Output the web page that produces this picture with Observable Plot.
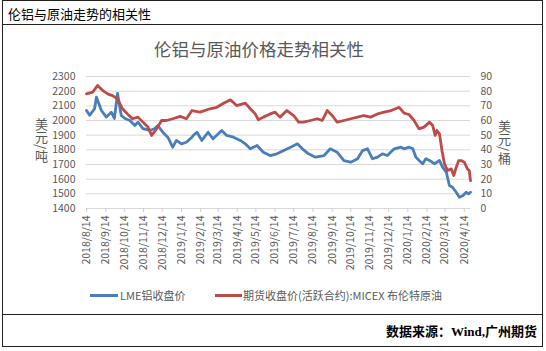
<!DOCTYPE html>
<html><head><meta charset="utf-8">
<script src="https://cdn.jsdelivr.net/npm/d3@7"></script>
<script src="https://cdn.jsdelivr.net/npm/@observablehq/plot@0.6"></script>
<style>
body{margin:0;background:#fff;}
#wrap{position:relative;width:546px;height:351px;overflow:hidden;font-family:"Noto Sans CJK SC","Noto Sans",sans-serif;}
#chart svg{position:absolute;left:0;top:0;}
.abs{position:absolute;white-space:nowrap;}
.hl{position:absolute;background:#222;height:1px;}
.vl{position:absolute;background:#222;width:1px;}
.vt{position:absolute;writing-mode:vertical-rl;font-size:13px;color:#595959;line-height:14px;}
.sw{position:absolute;height:3px;}
.lg{position:absolute;font-size:11px;color:#595959;line-height:14px;white-space:nowrap;}
</style></head><body>
<div id="wrap">
  <div id="chart"></div>
  <div class="hl" style="left:2px;top:0px;width:541px;"></div>
  <div class="hl" style="left:2px;top:24px;width:541px;"></div>
  <div class="hl" style="left:2px;top:314px;width:541px;"></div>
  <div class="hl" style="left:2px;top:346px;width:541px;"></div>
  <div class="vl" style="left:2px;top:0px;height:347px;"></div>
  <div class="vl" style="left:542px;top:0px;height:347px;"></div>
  <div class="abs" id="header" style="left:8px;top:4px;font-size:13px;line-height:19px;color:#000;">伦铝与原油走势的相关性</div>
  <div class="abs" id="title" style="left:0px;top:38px;width:518px;text-align:center;font-size:17.5px;line-height:22px;color:#595959;">伦铝与原油价格走势相关性</div>
  <div class="vt" id="ylabL" style="left:34px;top:118px;">美元/吨</div>
  <div class="vt" id="ylabR" style="left:497px;top:120px;">美元/桶</div>
  <div class="sw" style="left:90px;top:294px;width:28px;background:#4a7ebb;"></div>
  <div class="lg" id="lg1" style="left:120px;top:288px;">LME铝收盘价</div>
  <div class="sw" style="left:215px;top:294px;width:27px;background:#be4b48;"></div>
  <div class="lg" id="lg2" style="left:243px;top:288px;">期货收盘价(活跃合约):MICEX 布伦特原油</div>
  <div class="abs" id="footer" style="right:9px;top:323px;font-size:13px;line-height:18px;color:#000;font-weight:bold;font-family:'Liberation Serif','Noto Sans CJK SC',serif;">数据来源：Wind,广州期货</div>
</div>
<script>
// LME aluminium close (USD/t)
const alumDates = ["2018-08-14","2018-08-19","2018-08-27","2018-08-30","2018-09-07","2018-09-15","2018-09-23","2018-09-28","2018-10-03","2018-10-09","2018-10-15","2018-10-23","2018-10-31","2018-11-05","2018-11-13","2018-11-24","2018-12-02","2018-12-07","2018-12-15","2018-12-23","2018-12-31","2019-01-06","2019-01-14","2019-01-22","2019-01-31","2019-02-02","2019-02-08","2019-02-16","2019-02-26","2019-03-06","2019-03-20","2019-03-28","2019-04-08","2019-04-19","2019-04-27","2019-05-05","2019-05-16","2019-05-26","2019-06-06","2019-06-17","2019-06-28","2019-07-09","2019-07-20","2019-07-28","2019-08-07","2019-08-18","2019-09-01","2019-09-11","2019-09-22","2019-10-03","2019-10-14","2019-10-25","2019-11-02","2019-11-10","2019-11-18","2019-11-26","2019-12-04","2019-12-12","2019-12-23","2020-01-03","2020-01-08","2020-01-16","2020-01-22","2020-01-27","2020-02-01","2020-02-07","2020-02-12","2020-02-18","2020-02-26","2020-03-05","2020-03-10","2020-03-16","2020-03-21","2020-03-26","2020-04-01","2020-04-06","2020-04-12","2020-04-17","2020-04-21","2020-04-24"];
const alumValues = [2068,2035,2080,2159,2068,2023,2057,2014,2184,2034,2014,2000,1966,1989,1945,1932,1945,1966,1920,1886,1818,1864,1841,1852,1886,1898,1920,1864,1920,1875,1932,1898,1886,1864,1841,1807,1830,1784,1761,1773,1795,1818,1841,1807,1773,1750,1761,1807,1784,1727,1716,1739,1795,1807,1739,1750,1773,1761,1807,1818,1807,1818,1807,1750,1727,1705,1739,1727,1705,1727,1682,1648,1557,1545,1511,1477,1489,1511,1500,1511];
// MICEX Brent active contract close (USD/bbl)
const oilDates = ["2018-08-14","2018-08-24","2018-09-01","2018-09-09","2018-09-17","2018-09-25","2018-10-03","2018-10-11","2018-10-19","2018-10-27","2018-11-05","2018-11-13","2018-11-21","2018-11-27","2018-12-05","2018-12-13","2018-12-21","2018-12-31","2019-01-12","2019-01-22","2019-01-31","2019-02-13","2019-03-01","2019-03-12","2019-03-23","2019-04-03","2019-04-13","2019-04-27","2019-05-05","2019-05-13","2019-05-18","2019-05-26","2019-06-06","2019-06-14","2019-06-22","2019-07-03","2019-07-14","2019-07-22","2019-07-30","2019-08-10","2019-08-21","2019-08-29","2019-09-06","2019-09-14","2019-09-22","2019-10-03","2019-10-14","2019-10-25","2019-11-04","2019-11-15","2019-11-26","2019-12-07","2019-12-18","2019-12-31","2020-01-08","2020-01-16","2020-01-24","2020-02-01","2020-02-09","2020-02-18","2020-02-23","2020-02-27","2020-03-01","2020-03-05","2020-03-09","2020-03-13","2020-03-18","2020-03-24","2020-03-28","2020-04-01","2020-04-05","2020-04-09","2020-04-14","2020-04-19","2020-04-22","2020-04-24"];
const oilValues = [78.2,79.3,83.9,80.5,78.2,77,74.8,68,64.5,61.2,62.3,58.9,55.5,49.8,54.3,60,60,61.2,62.8,61.2,66.8,65.7,68,69,71.8,74.1,70.2,71.8,68,64.5,60.5,62.3,64.5,65.7,62.3,66.8,63.4,58.9,58.9,60,61.2,60,66.8,63.4,58.9,60,61.2,62.3,63.4,62.3,64.5,65.7,66.8,69,65,64.1,60,54.3,55.5,58.9,56.6,49.8,53.2,50.9,39.5,30.5,25.9,27,22.5,28.2,32.7,32.7,31.6,27,25.9,19];
// axis ticks
const leftTicks = [1400,1500,1600,1700,1800,1900,2000,2100,2200,2300];
const rightTicks = [0,10,20,30,40,50,60,70,80,90];
const xTicks = ["2018-08-14","2018-09-14","2018-10-14","2018-11-14","2018-12-14","2019-01-14","2019-02-14","2019-03-14","2019-04-14","2019-05-14","2019-06-14","2019-07-14","2019-08-14","2019-09-14","2019-10-14","2019-11-14","2019-12-14","2020-01-14","2020-02-14","2020-03-14","2020-04-14"];
const xDomain = ["2018-08-14","2020-04-24"];

const ratio = (leftTicks[leftTicks.length-1]-leftTicks[0])/(rightTicks[rightTicks.length-1]-rightTicks[0]);
const toLeft = v => leftTicks[0] + (v - rightTicks[0]) * ratio;
const alum = alumDates.map((d,i)=>({date:new Date(d), v:alumValues[i]}));
const oil = oilDates.map((d,i)=>({date:new Date(d), v:toLeft(oilValues[i])}));
const fmt = d => `${d.getUTCFullYear()}/${d.getUTCMonth()+1}/${d.getUTCDate()}`;

const chart = Plot.plot({
  width:546, height:351,
  marginTop:76, marginBottom:143, marginLeft:86, marginRight:76,
  style:{fontFamily:'"Noto Sans CJK SC","Noto Sans",sans-serif', fontSize:"10.5px", color:"#595959", background:"transparent"},
  x:{type:"utc", domain:xDomain.map(d=>new Date(d))},
  y:{domain:[leftTicks[0], leftTicks[leftTicks.length-1]]},
  marks:[
    Plot.gridY(leftTicks, {stroke:"#d9d9d9", strokeOpacity:1}),
    Plot.axisY(leftTicks, {anchor:"left", tickSize:0, tickPadding:11, label:null, tickFormat:d=>String(d)}),
    Plot.axisY(leftTicks, {anchor:"right", tickSize:0, tickPadding:10, label:null, tickFormat:d=>String(rightTicks[leftTicks.indexOf(d)])}),
    Plot.ruleY([leftTicks[0]], {stroke:"#d9d9d9"}),
    Plot.axisX(xTicks.map(d=>new Date(d)), {tickRotate:-90, tickSize:4, tickPadding:3, stroke:"#d0d0d0", strokeOpacity:1, label:null, tickFormat:fmt}),
    Plot.lineY(alum, {x:"date", y:"v", stroke:"#4a7ebb", strokeWidth:2.8, strokeLinejoin:"round"}),
    Plot.lineY(oil, {x:"date", y:"v", stroke:"#be4b48", strokeWidth:2.8, strokeLinejoin:"round"})
  ]
});
document.getElementById("chart").appendChild(chart);
</script>
</body></html>
